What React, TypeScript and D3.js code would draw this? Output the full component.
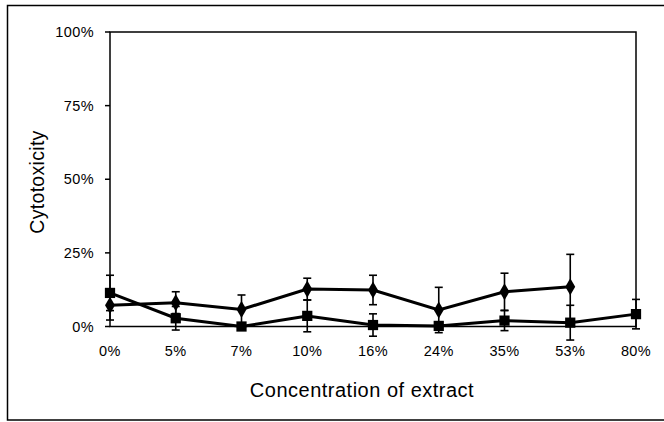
import React from "react";
import * as d3 from "d3";

const categories = ["0%", "5%", "7%", "10%", "16%", "24%", "35%", "53%", "80%"];
const diamondValues = [7.2, 8.1, 5.8, 12.7, 12.4, 5.6, 11.8, 13.5, null];
const diamondErrors = [5, 3.7, 4.9, 3.7, 5, 7.7, 6.3, 11, null];
const squareValues = [11.4, 2.8, 0, 3.6, 0.5, 0.2, 2, 1.3, 4.2];
const squareErrors = [6, 4, 0.5, 5.4, 3.8, 0.5, 3.4, 5.9, 5];
const yTicks = [0, 25, 50, 75, 100];

const W = 664;
const H = 422;
const left = 110;
const right = 636;
const top = 32;
const bottom = 326.5;

function Series({ values, errors, marker }: { values: (number | null)[]; errors: (number | null)[]; marker: "diamond" | "square" }) {
  const x = d3.scalePoint<string>().domain(categories).range([left, right]);
  const y = d3.scaleLinear().domain([0, 100]).range([bottom, top]);
  const pts = categories
    .map((c, i) => ({ c, v: values[i], e: errors[i] }))
    .filter((d) => d.v !== null) as { c: string; v: number; e: number }[];
  const line = d3
    .line<{ c: string; v: number }>()
    .x((d) => x(d.c)!)
    .y((d) => y(d.v));
  const sym = d3
    .symbol()
    .type(marker === "diamond" ? d3.symbolDiamond : d3.symbolSquare)
    .size(marker === "diamond" ? 85 : 105)();
  return (
    <g>
      {pts.map((d) => {
        const cx = x(d.c)!;
        return (
          <g key={"e" + d.c} stroke="#000" strokeWidth={1.6}>
            <line x1={cx} x2={cx} y1={y(d.v - d.e)} y2={y(d.v + d.e)} />
            <line x1={cx - 4} x2={cx + 4} y1={y(d.v + d.e)} y2={y(d.v + d.e)} />
            <line x1={cx - 4} x2={cx + 4} y1={y(d.v - d.e)} y2={y(d.v - d.e)} />
          </g>
        );
      })}
      <path d={line(pts) || ""} fill="none" stroke="#000" strokeWidth={3} />
      {pts.map((d) => (
        <path key={"m" + d.c} d={sym || ""} transform={`translate(${x(d.c)},${y(d.v)})`} fill="#000" />
      ))}
    </g>
  );
}

export default function App() {
  const x = d3.scalePoint<string>().domain(categories).range([left, right]);
  const y = d3.scaleLinear().domain([0, 100]).range([bottom, top]);
  const font = "Liberation Sans, Arial, sans-serif";
  return (
    <svg width={W} height={H} style={{ position: "absolute", left: 0, top: 0 }} fontFamily={font}>
      <rect x={0} y={0} width={W} height={H} fill="#fff" />
      <rect x={7.5} y={5.5} width={680} height={414.5} fill="none" stroke="#000" strokeWidth={1.5} />
      <rect x={left} y={top} width={right - left} height={bottom - top} fill="none" stroke="#000" strokeWidth={1.5} />
      {yTicks.map((t) => (
        <g key={t}>
          <line x1={left - 5} x2={left} y1={y(t)} y2={y(t)} stroke="#000" strokeWidth={1.5} />
          <text x={left - 16} y={y(t)} dy="0.35em" textAnchor="end" fontSize={14.5} letterSpacing={0.4}>
            {t + "%"}
          </text>
        </g>
      ))}
      {categories.map((c) => (
        <text key={c} x={x(c)} y={356} textAnchor="middle" fontSize={14.5} letterSpacing={0.4}>
          {c}
        </text>
      ))}
      <Series values={squareValues} errors={squareErrors} marker="square" />
      <Series values={diamondValues} errors={diamondErrors} marker="diamond" />
      <text x={362} y={397} textAnchor="middle" fontSize={20} letterSpacing={0.5}>
        Concentration of extract
      </text>
      <text transform={`translate(44,182) rotate(-90)`} textAnchor="middle" fontSize={19.5} letterSpacing={0.3}>
        Cytotoxicity
      </text>
    </svg>
  );
}
